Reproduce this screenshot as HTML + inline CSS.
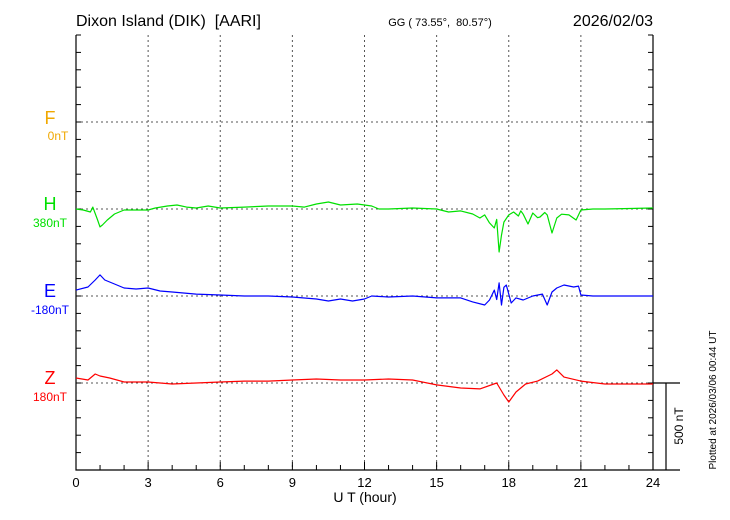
<!DOCTYPE html>
<html><head><meta charset="utf-8"><style>
body{margin:0;background:#fff;}
svg{display:block;font-family:"Liberation Sans",sans-serif;}
</style></head><body>
<svg id="c" width="730" height="520">
<text x="76" y="26" font-size="16">Dixon Island (DIK)&#160;&#160;[AARI]</text>
<text x="440" y="26" font-size="11" text-anchor="middle">GG ( 73.55°,&#160;&#160;80.57°)</text>
<text x="653" y="26" font-size="16" text-anchor="end">2026/02/03</text>
<text x="50" y="124" font-size="18" fill="#f0a800" text-anchor="middle">F</text>
<text x="58" y="140" font-size="12" fill="#f0a800" text-anchor="middle">0nT</text>
<text x="50" y="210" font-size="18" fill="#00e000" text-anchor="middle">H</text>
<text x="50" y="227" font-size="12" fill="#00e000" text-anchor="middle">380nT</text>
<text x="50" y="297" font-size="18" fill="#0000ff" text-anchor="middle">E</text>
<text x="50" y="314" font-size="12" fill="#0000ff" text-anchor="middle">-180nT</text>
<text x="50" y="384" font-size="18" fill="#ff0000" text-anchor="middle">Z</text>
<text x="50" y="401" font-size="12" fill="#ff0000" text-anchor="middle">180nT</text>
<text x="365" y="502" font-size="14" text-anchor="middle">U T (hour)</text>
<text transform="translate(683,426) rotate(-90)" font-size="12" text-anchor="middle">500 nT</text>
<text transform="translate(716,400) rotate(-90)" font-size="10" text-anchor="middle">Plotted at 2026/03/06 00:44 UT</text>
<g id="g"></g>
</svg>
<script>
const xTicks=[0,3,6,9,12,15,18,21,24];
const hT=[0,0.3,0.6,0.7,0.9,1.0,1.1,1.3,1.6,2,2.5,3,3.3,3.8,4.2,4.6,5,5.5,6,7,8,9,9.5,10,10.5,11,11.7,12,12.3,12.6,13,14,15,15.5,16,16.5,16.8,17,17.2,17.4,17.5,17.6,17.7,17.8,18,18.2,18.4,18.5,18.6,18.8,19,19.2,19.3,19.5,19.6,19.8,20,20.2,20.5,20.8,21,21.5,22,24];
const hV=[0,-6,-17,11,-63,-103,-92,-63,-29,-6,-6,-6,6,17,23,11,6,17,6,11,17,17,11,29,40,23,29,23,17,0,0,6,0,-17,-11,-29,-52,-34,-80,-109,-60,-247,-150,-75,-34,-17,-40,-11,-30,-86,-23,-50,-46,-20,-34,-138,-52,-30,-34,-63,-6,0,0,6];
const eT=[0,0.5,0.8,1,1.2,1.6,2,2.5,3,3.5,4,5,6,7,8,9,10,10.5,11,11.5,12,12.3,13,14,15,16,16.5,17,17.2,17.4,17.5,17.6,17.7,17.8,17.9,18.1,18.3,18.6,19,19.4,19.6,19.8,20,20.3,20.7,20.9,21,21.5,22,24];
const eV=[34,52,92,121,92,69,46,40,46,29,23,11,6,0,0,-6,-17,-29,-17,-29,-17,0,-6,0,-11,-11,-34,-52,-23,34,-20,75,-52,50,63,-40,-11,-23,0,11,-52,23,46,63,52,57,6,0,0,0];
const zT=[0,0.5,0.8,1,1.4,2,3,4,5,6,7,8,9,10,11,12,13,14,15,16,16.8,17.5,17.8,18,18.3,18.7,19.2,19.8,20,20.3,21,22,24];
const zV=[29,17,52,40,29,6,6,-6,0,6,11,11,17,23,17,17,23,17,-11,-29,-34,0,-69,-109,-52,-6,11,52,75,34,11,-6,-6];
const L=76,R=653,T=35,B=470;
const x=h=>L+h*(R-L)/24;
const pxPerNT=87/500;
const base={F:122,H:209,E:296,Z:383};
const y=(b,v)=>b-v*pxPerNT;
const g=document.getElementById('g');
const NS='http://www.w3.org/2000/svg';
function mk(t,a){const e=document.createElementNS(NS,t);for(const k in a)e.setAttribute(k,a[k]);g.appendChild(e);return e;}
xTicks.slice(1,-1).forEach(h=>{const e=mk('line',{x1:x(h),x2:x(h),y1:T,y2:B,stroke:'#555','stroke-dasharray':'2,3'});

});
Object.keys(base).forEach(k=>{const e=mk('line',{x1:L,x2:R,y1:base[k],y2:base[k],stroke:'#555','stroke-dasharray':'2,3'});

});
const fr=mk('path',{d:`M${L},${T}V${B}H680M${R},${T}V${B}M${R},383H680M666,383V${B}`,stroke:'#000',fill:'none','stroke-width':1.2});


for(let i=0;i<=25;i++){const yy=T+i*87/5;if(yy>B)break;
const a=mk('line',{x1:L,x2:L+5,y1:yy,y2:yy,stroke:'#000'});


const b=mk('line',{x1:R-5,x2:R,y1:yy,y2:yy,stroke:'#000'});

}
for(let h=0;h<=24;h++){const t=mk('line',{x1:x(h),x2:x(h),y1:B,y2:B-(h%3?5:8),stroke:'#000'});

}
xTicks.forEach(h=>{const t=mk('text',{x:x(h),y:487,'font-size':13,'text-anchor':'middle'});t.textContent=h;

});
function series(ts,vs,b,col,name){const d=ts.map((t,i)=>(i?'L':'M')+x(t).toFixed(1)+','+y(b,vs[i]).toFixed(1)).join('');
const p=mk('path',{d:d,stroke:col,fill:'none','stroke-width':1.2,'stroke-linejoin':'round'});

}
series(hT,hV,base.H,'#00e000','h-series');
series(eT,eV,base.E,'#0000ff','e-series');
series(zT,zV,base.Z,'#ff0000','z-series');
</script>
</body></html>
